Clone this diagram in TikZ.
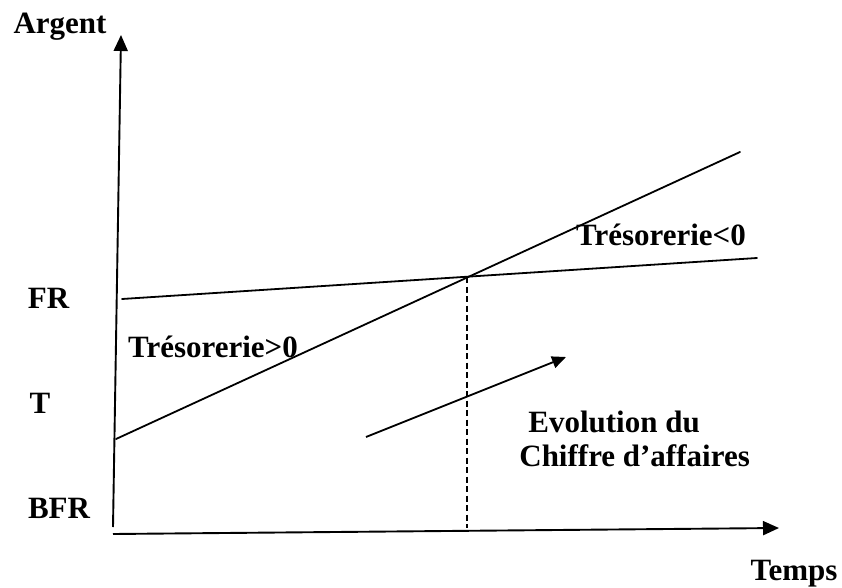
\documentclass[tikz,border=0pt]{standalone}
\usepackage{fontspec}
\setmainfont{Liberation Serif}
\usetikzlibrary{arrows.meta}
\begin{document}
\begin{tikzpicture}[x=1pt,y=-1pt,
  lbl/.style={font=\fontsize{31}{35}\selectfont\bfseries, inner sep=0pt, anchor=base},
  ln/.style={line width=1.8pt, line cap=round},
  axis/.style={line width=1.9pt, -{Triangle[length=16pt,width=14pt]}}]
\useasboundingbox (0,0) rectangle (842,588);
% axes
\coordinate (o1) at (113,527);
\coordinate (yt) at (121,35);
\coordinate (o2) at (113,534);
\coordinate (xt) at (779,528);
\draw[axis] (o1) -- (yt);
\draw[axis] (o2) -- (xt);
% lines
\coordinate (ca0) at (116,439);
\coordinate (ca1) at (740,152);
\coordinate (fr0) at (122,299);
\coordinate (fr1) at (757,258);
\draw[ln] (ca0) -- (ca1);
\draw[ln] (fr0) -- (fr1);
\coordinate (I) at (467,277);
\coordinate (Ib) at (467,528);
\draw[line width=1.5pt, dash pattern=on 6pt off 3.5pt] (I) -- (Ib);
% evolution arrow
\coordinate (a0) at (366,437);
\coordinate (a1) at (566,357);
\draw[line width=1.8pt, -{Triangle[length=14pt,width=12pt]}] (a0) -- (a1);
% labels
\node[lbl] (argent) at (60,34) {Argent};
\node[lbl] (fr) at (48.5,308) {FR};
\node[lbl] (t) at (40,413) {T};
\node[lbl] (bfr) at (59,518) {BFR};
\node[lbl] (temps) at (794,580) {Temps};
\node[lbl] (tneg) at (661,245) {Trésorerie<0};
\node[lbl] (tpos) at (213,357) {Trésorerie>0};
\node[lbl, anchor=base east] (evo1) at (700,432) {Evolution du};
\node[lbl, anchor=base east] (evo2) at (750,466) {Chiffre d’affaires};
\end{tikzpicture}
\end{document}
